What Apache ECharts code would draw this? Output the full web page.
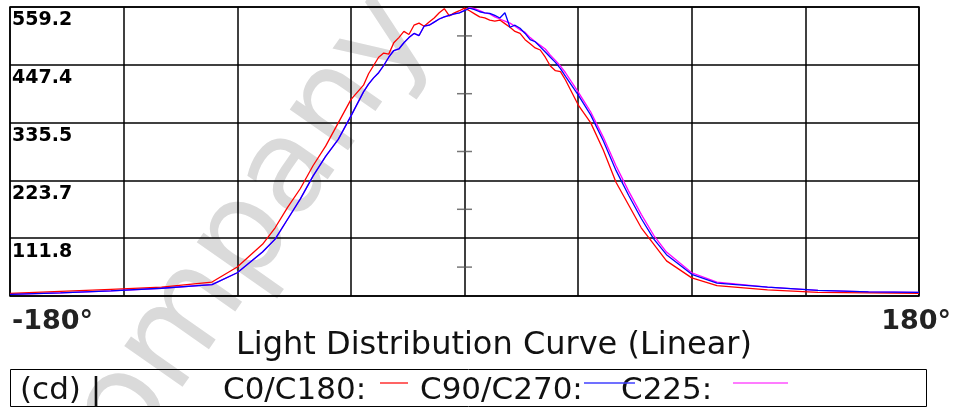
<!DOCTYPE html>
<html><head><meta charset="utf-8">
<script src="https://cdn.jsdelivr.net/npm/echarts@6/dist/echarts.min.js"></script>
<style>html,body{margin:0;padding:0;background:#fff}#c{width:958px;height:407px}</style>
</head><body><div id="c"></div>
<script>
// angle (degrees)
const angles = [-180,-160,-140,-120,-100,-90,-80,-75,-70,-65,-60,-55,-50,-45,
  -40,-38,-36,-34,-32,-30,-28,-26,-24,-22,-20,-18,-16,-14,-12,-10,-8,-6,-4,-2,0,
  2,4,6,8,10,12,14,16,18,20,22,24,26,28,30,32,34,36,38,40,
  45,50,55,60,65,70,75,80,90,100,120,140,160,180];
// intensity (cd)
const c0c180  = [5,9,13,17,27,56,100,132,172,208,252,290,335,380,
  408,430,446,462,470,468,490,500,512,506,524,528,522,530,538,548,556,542,548,552,557,
  552,546,540,538,534,532,534,527,520,512,508,496,488,480,476,462,445,436,434,418,
  370,335,282,220,176,132,100,68,35,20,12,7,6,5];
const c90c270 = [3,6,10,15,22,45,85,110,149,188,232,270,303,348,
  395,410,422,432,446,462,475,478,490,500,508,504,522,524,530,536,540,543,546,548,552,
  557,554,550,548,547,543,538,548,520,524,518,508,496,492,482,472,462,452,440,425,
  389,350,300,243,195,150,110,80,42,25,17,11,8,7];
const c225    = [3,6,10,15,22,45,85,110,149,188,232,270,303,348,
  395,410,422,432,446,462,475,478,490,500,508,504,522,524,530,536,540,543,546,548,553,
  558,556,552,548,546,540,536,532,528,522,515,510,500,492,485,478,466,456,445,432,
  395,356,307,252,203,158,117,85,45,27,17,11,8,7];
const yTicks = [0,111.84,223.68,335.52,447.36,559.2];
const yTickLabels = ['','111.8','223.7','335.5','447.4','559.2'];
const centerTickValues = [55.92,167.76,279.6,391.44,503.28];
const xEndLabels = ['-180°','180°'];
const titleText = 'Light Distribution Curve (Linear)';
const legendUnit = '(cd) |';
const legendNames = ['C0/C180:','C90/C270:','C225:'];
const watermarkText = 'Company';

const chart = echarts.init(document.getElementById('c'), null, {renderer:'canvas'});
const pair = arr => angles.map((a,i)=>[a, arr[i]]);
const FF = 'DejaVu Sans';
const opt = {
  animation:false,
  backgroundColor:'#fff',
  grid:{left:10, top:7, width:909, height:289, show:true, borderColor:'#000', borderWidth:1.5, backgroundColor:'transparent'},
  xAxis:{type:'value', min:-180, max:180, interval:45,
    axisLine:{show:false}, axisTick:{show:false}, axisLabel:{show:false},
    splitLine:{show:true, lineStyle:{color:'#000', width:1.5}}},
  yAxis:{type:'value', min:0, max:559.2, interval:111.84,
    axisLine:{show:false}, axisTick:{show:false},
    axisLabel:{inside:true, margin:2, fontFamily:FF, fontWeight:'bold', fontSize:19, color:'#000',
      verticalAlign:'top', padding:[4,0,0,0],
      formatter:(v)=>{const i=yTicks.findIndex(t=>Math.abs(t-v)<0.01);return i>=0?yTickLabels[i]:'';}},
    splitLine:{show:true, lineStyle:{color:'#000', width:1.5}}},
  series:[
    {type:'scatter', data:centerTickValues.map(v=>[0,v]), symbol:'rect', symbolSize:[15,1.5], itemStyle:{color:'#555'}, silent:true, z:1},
    {type:'line', data:pair(c225), showSymbol:false, lineStyle:{color:'#ff00ff', width:1.3}, itemStyle:{color:'#ff00ff'}, z:2},
    {type:'line', data:pair(c0c180), showSymbol:false, lineStyle:{color:'#ff0000', width:1.3}, itemStyle:{color:'#ff0000'}, z:3},
    {type:'line', data:pair(c90c270), showSymbol:false, lineStyle:{color:'#0000ff', width:1.3}, itemStyle:{color:'#0000ff'}, z:4}
  ],
  graphic:[
    {type:'text', z:-10, x:405, y:10, rotation:0.96, silent:true,
      style:{text:watermarkText, fill:'#dadada', font:'130px "DejaVu Sans"', textAlign:'right', textVerticalAlign:'middle'}},
    {type:'text', x:12, y:322, style:{text:xEndLabels[0], fill:'#222', font:'bold 27px "DejaVu Sans"', textAlign:'left', textVerticalAlign:'middle'}},
    {type:'text', x:951, y:322, style:{text:xEndLabels[1], fill:'#222', font:'bold 27px "DejaVu Sans"', textAlign:'right', textVerticalAlign:'middle'}},
    {type:'text', x:236, y:346, style:{text:titleText, fill:'#111', font:'32px "DejaVu Sans"', textAlign:'left', textVerticalAlign:'middle'}},
    {type:'rect', shape:{x:10.5, y:369.5, width:916, height:37}, style:{fill:'none', stroke:'#000', lineWidth:1}},
    {type:'text', x:20, y:391, style:{text:legendUnit, fill:'#111', font:'31px "DejaVu Sans"', textAlign:'left', textVerticalAlign:'middle'}},
    {type:'text', x:223, y:391, style:{text:legendNames[0], fill:'#111', font:'31px "DejaVu Sans"', textAlign:'left', textVerticalAlign:'middle'}},
    {type:'text', x:420, y:391, style:{text:legendNames[1], fill:'#111', font:'31px "DejaVu Sans"', textAlign:'left', textVerticalAlign:'middle'}},
    {type:'text', x:621, y:391, style:{text:legendNames[2], fill:'#111', font:'31px "DejaVu Sans"', textAlign:'left', textVerticalAlign:'middle'}},
    {type:'line', z:5, shape:{x1:380, y1:383, x2:408, y2:383}, style:{stroke:'#ff3030', lineWidth:1.5}},
    {type:'line', z:5, shape:{x1:584, y1:383, x2:635, y2:383}, style:{stroke:'#4040ff', lineWidth:1.5}},
    {type:'line', z:5, shape:{x1:733, y1:383, x2:788, y2:383}, style:{stroke:'#ff50ff', lineWidth:1.5}}
  ]
};
chart.setOption(opt);
</script>
</body></html>
